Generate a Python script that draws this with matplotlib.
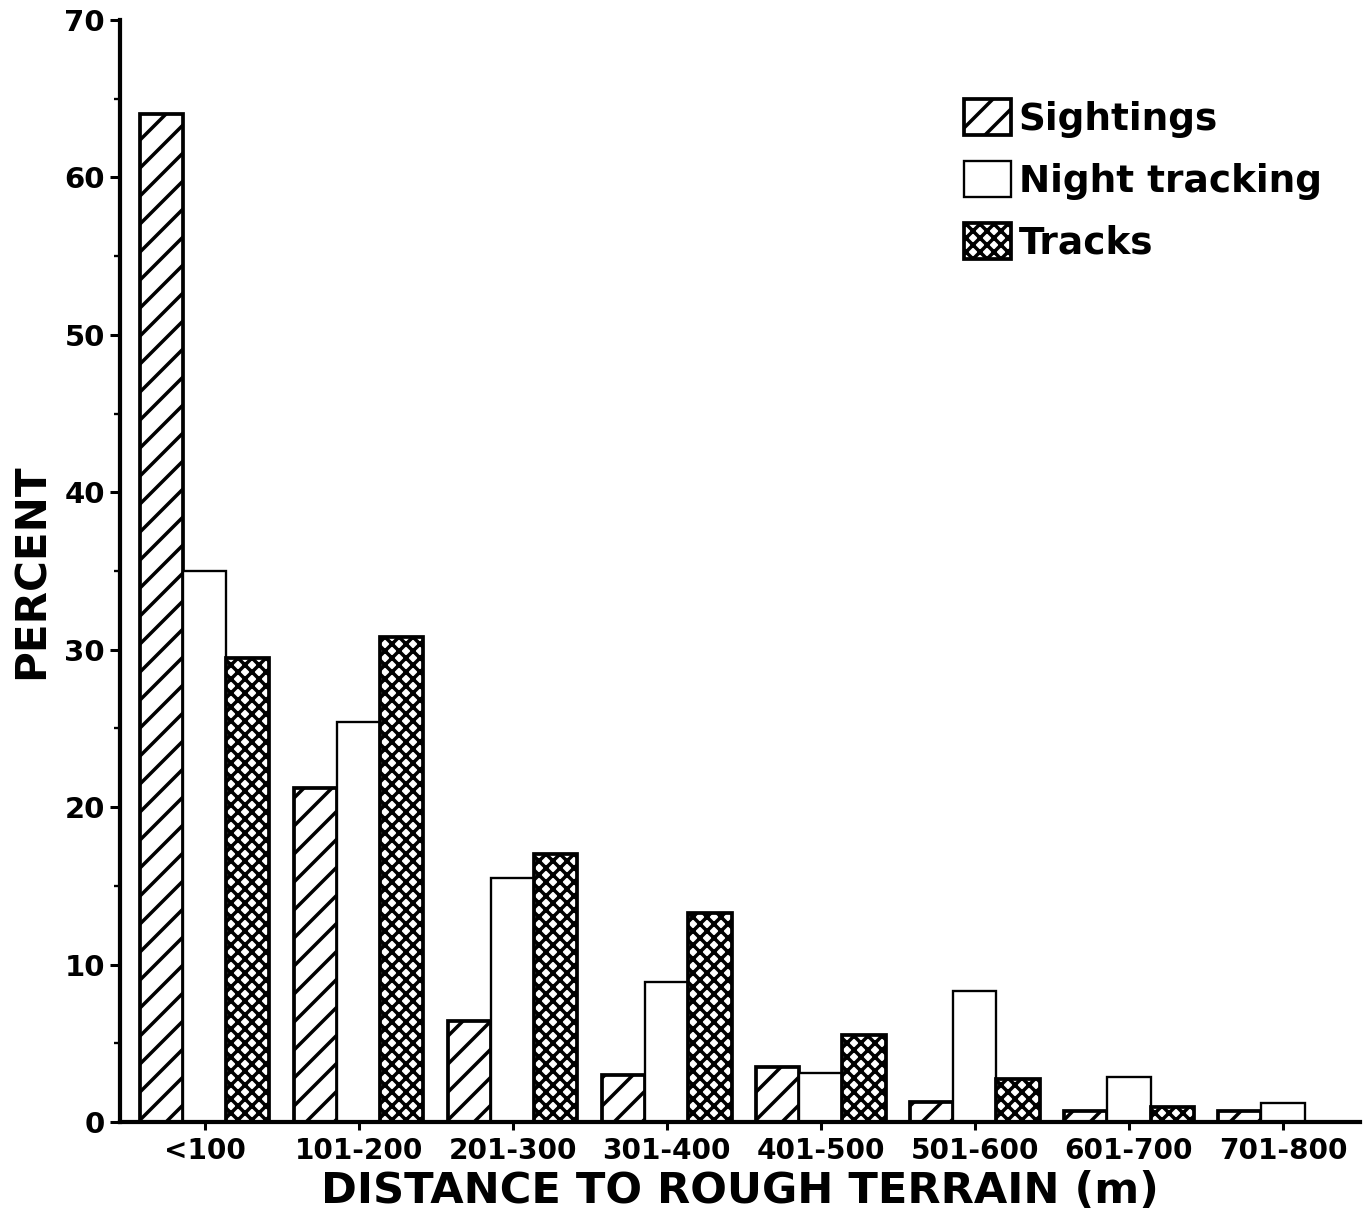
import matplotlib
matplotlib.use('Agg')
import matplotlib.pyplot as plt
import numpy as np

# distance classes and percent of observations in each
classes = ['<100', '101-200', '201-300', '301-400', '401-500', '501-600', '601-700', '701-800']
sightings = [64.0, 21.2, 6.4, 3.0, 3.5, 1.3, 0.7, 0.7]
night_tracking = [35.0, 25.4, 15.5, 8.9, 3.1, 8.3, 2.85, 1.2]
tracks = [29.5, 30.8, 17.0, 13.3, 5.5, 2.7, 0.95, 0.0]

plt.rcParams['font.family'] = 'DejaVu Sans'
plt.rcParams['font.weight'] = 'bold'
plt.rcParams['axes.labelweight'] = 'bold'
plt.rcParams['hatch.linewidth'] = 1.5
plt.rcParams['hatch.color'] = 'black'

fig = plt.figure(figsize=(1368 / 168, 1215 / 168), dpi=168)
ax = fig.add_axes([120 / 1368, 1 - 1122 / 1215, 1240 / 1368, 1102 / 1215])

x = np.arange(len(classes))
w = 0.28
ax.bar(x - w, sightings, w, color='white', edgecolor='black', linewidth=1.6, hatch='//', label='Sightings')
ax.bar(x, night_tracking, w, color='white', edgecolor='black', linewidth=1.0, label='Night tracking')
ax.bar(x + w, tracks, w, color='white', edgecolor='black', linewidth=1.6, hatch='xxxx', label='Tracks')

ax.set_xlim(-0.55, 7.5)
ax.set_ylim(0, 70)
ax.set_yticks(np.arange(0, 71, 10))
ax.set_yticks(np.arange(5, 70, 10), minor=True)
ax.set_xticks(x)
ax.set_xticklabels(classes)

for s in ['top', 'right']:
    ax.spines[s].set_visible(False)
ax.spines['left'].set_linewidth(1.8)
ax.spines['bottom'].set_linewidth(1.8)

ax.tick_params(axis='y', which='major', length=4.5, width=1.3, labelsize=12.5, pad=2)
ax.tick_params(axis='y', which='minor', length=2.5, width=1.0)
ax.tick_params(axis='x', length=3.5, width=1.3, labelsize=12, pad=3)

ax.set_xlabel('DISTANCE TO ROUGH TERRAIN (m)', fontsize=18.5, labelpad=2)
ax.set_ylabel('PERCENT', fontsize=18, labelpad=5)

ax.legend(loc='upper left', bbox_to_anchor=(0.681, 0.928), frameon=False, fontsize=16,
          handlelength=1.25, handleheight=1.1, handletextpad=0.2, labelspacing=0.62,
          borderpad=0, borderaxespad=0)

fig.savefig('out.png', dpi=168)
